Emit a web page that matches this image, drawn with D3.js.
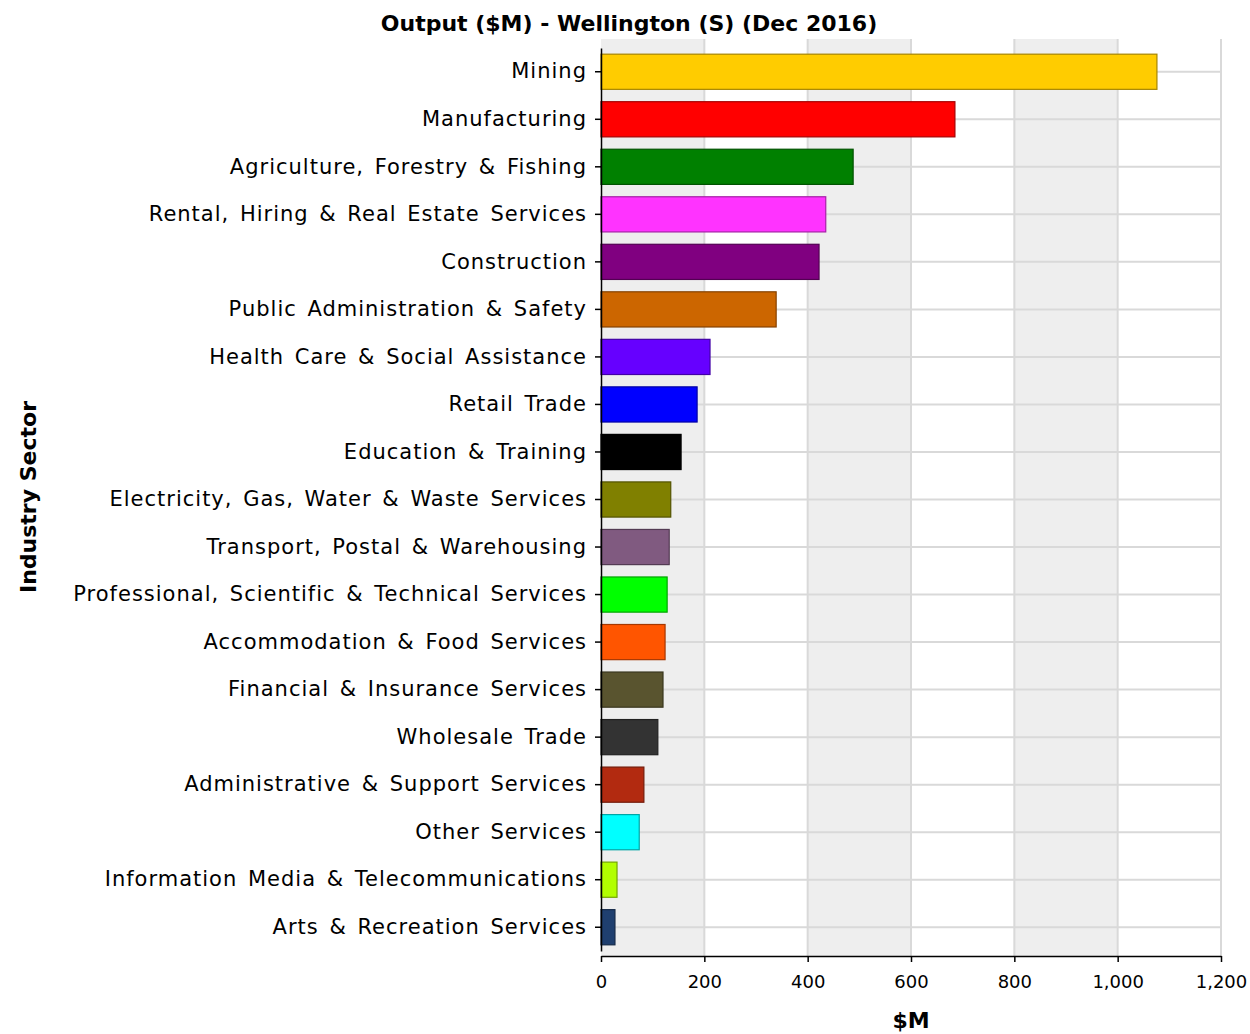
<!DOCTYPE html>
<html>
<head>
<meta charset="utf-8">
<script src="https://cdn.jsdelivr.net/npm/d3@7"></script>
<style>
  body { margin: 0; background: #fff; }
  svg text { font-family: "DejaVu Sans", sans-serif; fill: #000; }
</style>
</head>
<body>
<div id="chart"></div>
<script>
// Chart data
const sectors = [
    'Mining', 'Manufacturing', 'Agriculture, Forestry & Fishing',
    'Rental, Hiring & Real Estate Services', 'Construction',
    'Public Administration & Safety', 'Health Care & Social Assistance',
    'Retail Trade', 'Education & Training',
    'Electricity, Gas, Water & Waste Services',
    'Transport, Postal & Warehousing',
    'Professional, Scientific & Technical Services',
    'Accommodation & Food Services', 'Financial & Insurance Services',
    'Wholesale Trade', 'Administrative & Support Services',
    'Other Services', 'Information Media & Telecommunications',
    'Arts & Recreation Services'
];
const outputValues = [1076, 685, 488, 435, 422, 339, 211, 186, 155, 135, 132, 128, 124, 120, 110, 83, 74, 31, 27];
const sectorColors = [
    '#ffcc00', '#ff0000', '#008000', '#ff33ff', '#800080', '#cc6600', '#6600ff',
    '#0000ff', '#000000', '#808000', '#805a80', '#00ff00', '#ff5500', '#59542f',
    '#333333', '#b22a10', '#00ffff', '#b2ff00', '#1f3f6f'
];
const xTicks = [0, 200, 400, 600, 800, 1000, 1200];

const width = 1250, height = 1034;
const plot = { left: 601, right: 1222, top: 39, bottom: 956 };

const svg = d3.select('#chart').append('svg')
    .attr('width', width)
    .attr('height', height);

const x = d3.scaleLinear()
    .domain([0, 1200])
    .range([plot.left, plot.right - 1]);

const y = d3.scaleBand()
    .domain(sectors)
    .range([48, 951])
    .paddingInner(0.26)
    .paddingOuter(0.13);

// alternating background bands
for (let i = 0; i < xTicks.length - 1; i++) {
    svg.append('rect')
        .attr('x', x(xTicks[i]))
        .attr('y', plot.top)
        .attr('width', x(xTicks[i + 1]) - x(xTicks[i]))
        .attr('height', plot.bottom - plot.top)
        .attr('fill', i % 2 === 0 ? '#eeeeee' : '#ffffff');
}

// gridlines
svg.append('g').selectAll('line')
    .data(xTicks.slice(1))
    .join('line')
    .attr('x1', d => x(d)).attr('x2', d => x(d))
    .attr('y1', plot.top).attr('y2', plot.bottom)
    .attr('stroke', '#d9d9d9')
    .attr('stroke-width', 2);

svg.append('g').selectAll('line')
    .data(sectors)
    .join('line')
    .attr('x1', plot.left).attr('x2', plot.right)
    .attr('y1', d => y(d) + y.bandwidth() / 2)
    .attr('y2', d => y(d) + y.bandwidth() / 2)
    .attr('stroke', '#d9d9d9')
    .attr('stroke-width', 2);

// bars
svg.append('g').selectAll('rect')
    .data(sectors)
    .join('rect')
    .attr('x', x(0))
    .attr('y', d => y(d))
    .attr('width', (d, i) => x(outputValues[i]) - x(0))
    .attr('height', y.bandwidth())
    .attr('fill', (d, i) => sectorColors[i])
    .attr('stroke', (d, i) => d3.color(sectorColors[i]).darker(1.2))
    .attr('stroke-width', 1.2);

// x axis
const xAxis = d3.axisBottom(x)
    .tickValues(xTicks)
    .tickSize(6)
    .tickSizeOuter(0)
    .tickPadding(13)
    .tickFormat(d3.format(','));
svg.append('g')
    .attr('transform', `translate(0, ${plot.bottom})`)
    .call(xAxis)
    .call(g => g.select('.domain').attr('stroke', '#000').attr('stroke-width', 1.5))
    .call(g => g.selectAll('.tick line').attr('stroke-width', 1.5))
    .call(g => g.selectAll('text').attr('font-size', 18).attr('font-family', '"DejaVu Sans", sans-serif'));

// y axis
const yAxis = d3.axisLeft(y)
    .tickSize(6)
    .tickSizeOuter(0)
    .tickPadding(8);
svg.append('g')
    .attr('transform', `translate(${plot.left}, 0)`)
    .call(yAxis)
    .call(g => g.select('.domain').attr('stroke', '#000').attr('stroke-width', 1.5))
    .call(g => g.selectAll('.tick line').attr('stroke-width', 1.5))
    .call(g => g.selectAll('text')
        .attr('font-size', 21)
        .attr('letter-spacing', 1)
        .attr('word-spacing', 3)
        .attr('font-family', '"DejaVu Sans", sans-serif'));

// titles
svg.append('text')
    .attr('x', 629).attr('y', 31)
    .attr('text-anchor', 'middle')
    .attr('font-size', 22).attr('font-weight', 'bold')
    .text('Output ($M) - Wellington (S) (Dec 2016)');

svg.append('text')
    .attr('transform', 'translate(36, 497) rotate(-90)')
    .attr('text-anchor', 'middle')
    .attr('font-size', 22).attr('font-weight', 'bold')
    .text('Industry Sector');

svg.append('text')
    .attr('x', 911).attr('y', 1028)
    .attr('text-anchor', 'middle')
    .attr('font-size', 22).attr('font-weight', 'bold')
    .text('$M');
</script>
</body>
</html>
